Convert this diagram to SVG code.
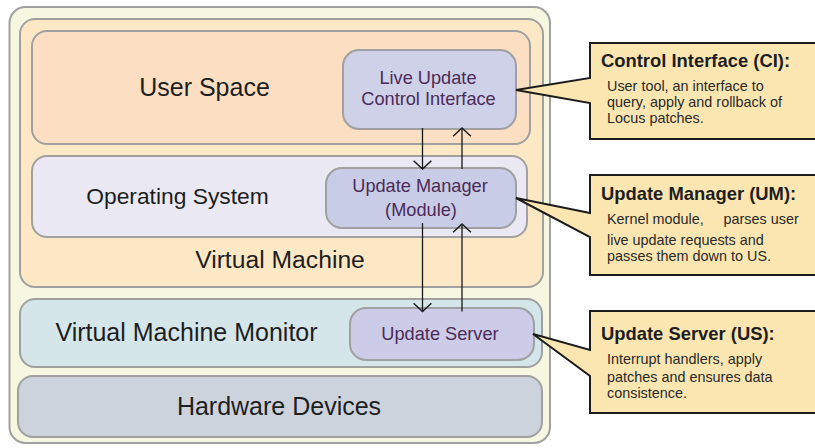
<svg xmlns="http://www.w3.org/2000/svg" width="815" height="448" viewBox="0 0 815 448">
<defs>
<style>
.box{stroke:#a0a0a0;stroke-width:2}
.lbl{font-family:"Liberation Sans",Arial,sans-serif;fill:#1e1e1e;text-anchor:middle}
.ntx{font-family:"Liberation Sans",Arial,sans-serif;fill:#4b2b57;font-size:18.2px;text-anchor:middle}
.call{fill:#fbe6b1;stroke:#1c1c1c;stroke-width:2;stroke-linejoin:miter}
.ctitle{font-family:"Liberation Sans",Arial,sans-serif;font-weight:bold;font-size:18.4px;fill:#1e1e1e}
.cbody{font-family:"Liberation Sans",Arial,sans-serif;font-size:14.4px;fill:#2a2a2a}
.conn{stroke:#1a1a1a;stroke-width:1.3;fill:none}
</style>
<marker id="ah" markerUnits="userSpaceOnUse" markerWidth="12" markerHeight="20" refX="7.5" refY="8" orient="auto" viewBox="-1 -1 10 18">
<path d="M0,0 L7.5,8 L0,16" fill="none" stroke="#1a1a1a" stroke-width="1.3"/>
</marker>
</defs>

<g id="outer">
<rect class="box" x="9.5" y="7" width="540.5" height="436" rx="16" fill="#f6f7e1"/>
</g>
<g id="virtual-machine">
<rect class="box" x="20" y="19" width="523" height="268" rx="15" fill="#fde8c5"/>
<text class="lbl" x="280" y="268" font-size="24.7">Virtual Machine</text>
</g>
<g id="user-space">
<rect class="box" x="32" y="31" width="498" height="113" rx="15" fill="#fcdfc2"/>
<text class="lbl" x="204.5" y="96" font-size="25">User Space</text>
</g>
<g id="control-interface">
<rect class="box" x="343" y="50" width="173" height="79" rx="16" fill="#cfd1e9"/>
<text class="ntx" x="428" y="84">Live Update</text>
<text class="ntx" x="428.5" y="105">Control Interface</text>
</g>
<g id="operating-system">
<rect class="box" x="32" y="156" width="495" height="81" rx="15" fill="#e9e8f3"/>
<text class="lbl" x="177.5" y="204" font-size="22.8">Operating System</text>
</g>
<g id="update-manager">
<rect class="box" x="326" y="168" width="190" height="60" rx="16" fill="#c9cce6"/>
<text class="ntx" x="420" y="192">Update Manager</text>
<text class="ntx" x="421" y="216">(Module)</text>
</g>
<g id="vmm">
<rect class="box" x="20" y="299" width="522" height="68" rx="15" fill="#d5e6ea"/>
<text class="lbl" x="186.5" y="341" font-size="25">Virtual Machine Monitor</text>
</g>
<g id="update-server">
<rect class="box" x="350" y="308" width="184" height="52" rx="16" fill="#cccbe8"/>
<text class="ntx" x="440" y="340">Update Server</text>
</g>
<g id="hardware">
<rect class="box" x="18" y="376" width="524" height="61" rx="15" fill="#ccd3dc"/>
<text class="lbl" x="279" y="415" font-size="25">Hardware Devices</text>
</g>

<g id="connectors">
<line class="conn" x1="422.5" y1="128" x2="422.5" y2="169" marker-end="url(#ah)"/>
<line class="conn" x1="462" y1="169" x2="462" y2="128" marker-end="url(#ah)"/>
<line class="conn" x1="422.5" y1="223" x2="422.5" y2="311.5" marker-end="url(#ah)"/>
<line class="conn" x1="462" y1="311.5" x2="462" y2="224" marker-end="url(#ah)"/>
</g>

<g id="callout-ci">
<path class="call" d="M590,43 H830 V139 H590 V103 L516,90 L590,78 Z"/>
<text class="ctitle" x="601" y="66.5">Control Interface (CI):</text>
<text class="cbody" x="607" y="90.7">User tool, an interface to</text>
<text class="cbody" x="607" y="107">query, apply and rollback of</text>
<text class="cbody" x="607" y="123">Locus patches.</text>
</g>
<g id="callout-um">
<path class="call" d="M590,175 H830 V275 H590 V237 L516,198 L590,213 Z"/>
<text class="ctitle" x="601" y="199.5">Update Manager (UM):</text>
<text class="cbody" y="224"><tspan x="607">Kernel module,</tspan><tspan x="723.5">parses user</tspan></text>
<text class="cbody" x="607" y="245">live update requests and</text>
<text class="cbody" x="607" y="261">passes them down to US.</text>
</g>
<g id="callout-us">
<path class="call" d="M590,311 H830 V413 H590 V376 L533,334 L590,350 Z"/>
<text class="ctitle" x="601" y="340">Update Server (US):</text>
<text class="cbody" x="607" y="364">Interrupt handlers, apply</text>
<text class="cbody" x="607" y="381.5">patches and ensures data</text>
<text class="cbody" x="607" y="398">consistence.</text>
</g>
</svg>
